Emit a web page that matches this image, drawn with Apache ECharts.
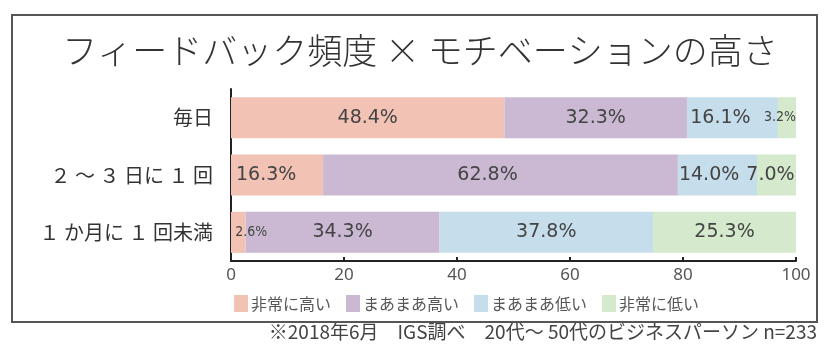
<!DOCTYPE html>
<html><head><meta charset="utf-8">
<script src="https://cdn.jsdelivr.net/npm/echarts@6/dist/echarts.min.js"></script>
<style>html,body{margin:0;padding:0;background:#fff}#c{width:840px;height:362px}</style>
</head><body><div id="c"></div>
<script>
const categories = ['毎日', '２ ～ ３ 日に １ 回', '１ か月に １ 回未満'];
const seriesNames = ['非常に高い', 'まあまあ高い', 'まあまあ低い', '非常に低い'];
const veryHigh = [48.4, 16.3, 2.6];
const fairlyHigh = [32.3, 62.8, 34.3];
const fairlyLow = [16.1, 14.0, 37.8];
const veryLow = [3.2, 7.0, 25.3];
const xTicks = [0, 20, 40, 60, 80, 100];
const colors = ['#F2C2B4', '#CBB9D3', '#C6DEEB', '#D5E9CD'];

// label tweaks per [series][row] (styling only)
const labelTweaks = {
  '0-1': {position: 'insideLeft', distance: 5},
  '0-2': {fontSize: 14, fontFamily: 'DejaVu Sans Condensed', offset: [13, 0]},
  '1-1': {offset: [-13, 0]},
  '2-0': {offset: [-12, 0]},
  '2-1': {position: 'insideLeft', distance: 1},
  '3-0': {fontSize: 14, fontFamily: 'DejaVu Sans Condensed', offset: [-7, 0]},
  '3-1': {offset: [-6, 0]}
};
const all = [veryHigh, fairlyHigh, fairlyLow, veryLow];
const series = all.map((vals, si) => ({
  name: seriesNames[si],
  type: 'bar',
  stack: 'total',
  barWidth: 41,
  itemStyle: {color: colors[si]},
  label: {
    show: true, position: 'inside', color: '#444',
    fontFamily: 'DejaVu Sans', fontSize: 19,
    formatter: p => p.value.toFixed(1) + '%'
  },
  data: vals.map((v, ri) => {
    const t = labelTweaks[si + '-' + ri];
    return t ? {value: v, label: t} : {value: v};
  })
}));

const chart = echarts.init(document.getElementById('c'), null, {renderer: 'canvas'});
chart.setOption({
  animation: false,
  backgroundColor: '#fff',
  color: colors,
  grid: {left: 231, right: 44, top: 89, bottom: 101},
  xAxis: {
    type: 'value', min: xTicks[0], max: xTicks[xTicks.length - 1], interval: 20,
    axisLine: {show: true, lineStyle: {color: '#222', width: 2}},
    axisTick: {show: true, inside: true, length: 4, lineStyle: {color: '#222', width: 2}},
    axisLabel: {color: '#555', fontSize: 17, fontFamily: 'Noto Sans', margin: 6},
    splitLine: {show: false}
  },
  yAxis: {
    type: 'category', data: categories, inverse: true,
    axisLine: {show: true, lineStyle: {color: '#222', width: 2}},
    axisTick: {show: false},
    axisLabel: {color: '#333', fontSize: 20, fontFamily: 'Noto Sans CJK JP', margin: 18}
  },
  legend: {
    left: 229, top: 290,
    itemWidth: 14, itemHeight: 17, itemGap: 15,
    icon: 'rect',
    textStyle: {color: '#555', fontSize: 16, fontFamily: 'Noto Sans CJK JP', padding: [0, 0, 0, -2]},
    data: seriesNames
  },
  graphic: [
    {type: 'rect', shape: {x: 12, y: 15, width: 805, height: 307},
     style: {fill: 'none', stroke: '#555', lineWidth: 2}, z: -1},
    {type: 'text', left: 'center', top: 33,
     style: {text: 'フィードバック頻度 × モチベーションの高さ', fill: '#333', fontSize: 35,
       fontWeight: 300, fontFamily: 'Noto Sans CJK JP'}},
    {type: 'text', right: 23, top: 322,
     style: {text: '※2018年6月　IGS調べ　20代～ 50代のビジネスパーソン n=233', fill: '#444', fontSize: 19,
       fontFamily: 'Noto Sans CJK JP'}}
  ],
  series: series
});
</script></body></html>
